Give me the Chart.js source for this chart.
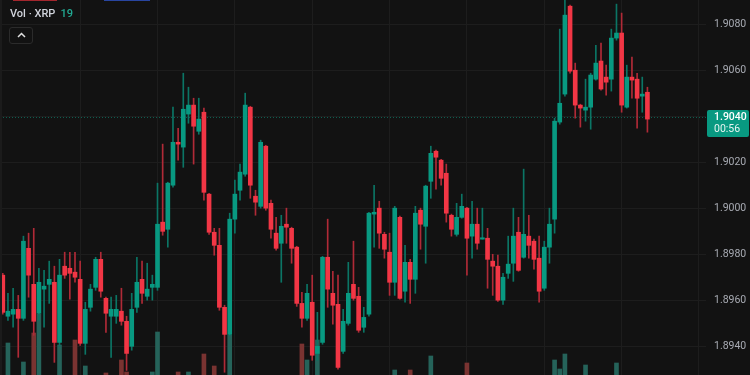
<!DOCTYPE html>
<html><head><meta charset="utf-8">
<script src="https://cdn.jsdelivr.net/npm/chart.js@4.4.1/dist/chart.umd.min.js"></script>
<style>
html,body{margin:0;padding:0;background:#121212;}
#wrap{position:relative;width:750px;height:375px;overflow:hidden;background:#121212;}
#c{position:absolute;left:0;top:0;}
.hdr{position:absolute;left:10px;top:7px;font:500 11px Roboto,sans-serif;color:#d1d4dc;white-space:nowrap;}
.hdr .v{color:#22ab94;margin-left:5px;}
.btn{position:absolute;left:9px;top:27px;width:24px;height:17px;border:1px solid #2b2b2b;border-radius:3px;box-sizing:border-box;background:#121212;}
.btn svg{position:absolute;left:7px;top:4px;}
.tb1{position:absolute;left:13px;top:0;width:44px;height:1px;background:#a3262d;}
.tb2{position:absolute;left:104px;top:0;width:46px;height:1px;background:#2845a0;}
.edge{position:absolute;left:0;top:0;width:2px;height:375px;background:#1b1b1b;}
</style></head>
<body>
<div id="wrap">
<canvas id="c" width="750" height="375"></canvas>
<div class="edge"></div>
<div class="tb1"></div><div class="tb2"></div>
<div class="hdr">Vol · XRP<span class="v">19</span></div>
<div class="btn"><svg width="9" height="6" viewBox="0 0 9 6"><polyline points="1,5 4.5,1.5 8,5" fill="none" stroke="#e0e0e0" stroke-width="1.5"/></svg></div>
</div>
<script>
const opens = [
1.89709,1.89530,1.89539,1.89560,1.89521,1.89826,1.89669,1.89543,1.89648,1.89669,
1.89678,1.89416,1.89748,1.89739,1.89722,1.89691,1.89412,1.89569,1.89656,1.89778,
1.89608,1.89530,1.89530,1.89552,1.89508,1.89399,1.89569,1.89691,1.89617,1.89656,
1.89656,1.89940,1.89909,1.90101,1.90288,1.90267,1.90411,1.90450,1.90336,1.90419,
1.90062,1.89896,1.89839,1.89569,1.89451,1.89953,1.90079,1.90149,1.90441,1.90053,
1.90009,1.90271,1.90022,1.89892,1.89848,1.89931,1.89913,1.89831,1.89586,1.89521,
1.89591,1.89368,1.89416,1.89787,1.89630,1.89582,1.89377,1.89499,1.89669,1.89617,
1.89482,1.89539,1.89975,1.90001,1.89887,1.89809,1.89678,1.89961,1.89639,1.89765,
1.89691,1.89992,1.89922,1.90118,1.90249,1.90210,1.90153,1.89970,1.89887,1.89961,
1.90001,1.89879,1.89931,1.89866,1.89870,1.89770,1.89748,1.89600,1.89717,1.89761,
1.89896,1.89787,1.89879,1.89857,1.89783,1.89652,1.89831,1.89953,1.90376,1.90498,
1.90881,1.90602,1.90450,1.90428,1.90441,1.90563,1.90642,1.90572,1.90563,1.90742,
1.90764,1.90441,1.90572,1.90563,1.90489,1.90506];
const highs = [
1.89717,1.89630,1.89652,1.89621,1.89879,1.89892,1.89913,1.89739,1.89730,1.89770,
1.89748,1.89778,1.89809,1.89809,1.89809,1.89770,1.89591,1.89669,1.89787,1.89809,
1.89613,1.89613,1.89621,1.89652,1.89530,1.89630,1.89787,1.89770,1.89761,1.89709,
1.90110,1.90280,1.90114,1.90441,1.90349,1.90589,1.90528,1.90480,1.90480,1.90437,
1.90066,1.89913,1.89913,1.89578,1.89979,1.90123,1.90193,1.90502,1.90445,1.90079,
1.90297,1.90275,1.90036,1.89961,1.89970,1.90001,1.89918,1.89835,1.89634,1.89669,
1.89709,1.89547,1.89791,1.89953,1.89726,1.89709,1.89560,1.89765,1.89857,1.89656,
1.89569,1.89983,1.90101,1.90031,1.89896,1.89892,1.90009,1.89966,1.89839,1.89778,
1.90009,1.90001,1.90101,1.90271,1.90254,1.90214,1.90193,1.89975,1.90022,1.90062,
1.90005,1.90031,1.90001,1.90001,1.89913,1.89800,1.89796,1.89717,1.89879,1.90001,
1.89961,1.90171,1.89970,1.89866,1.89879,1.89857,1.90001,1.90393,1.90781,1.90930,
1.90886,1.90633,1.90454,1.90563,1.90589,1.90711,1.90720,1.90624,1.90781,1.90890,
1.90851,1.90624,1.90659,1.90589,1.90572,1.90528];
const lows = [
1.89539,1.89512,1.89482,1.89351,1.89512,1.89613,1.89447,1.89512,1.89482,1.89586,
1.89329,1.89399,1.89695,1.89604,1.89678,1.89403,1.89364,1.89552,1.89643,1.89613,
1.89460,1.89351,1.89499,1.89491,1.89294,1.89382,1.89547,1.89586,1.89600,1.89600,
1.89643,1.89883,1.89831,1.90092,1.90210,1.90179,1.90371,1.90193,1.90323,1.90036,
1.89887,1.89796,1.89556,1.89286,1.89443,1.89892,1.90036,1.90140,1.90044,1.89970,
1.90001,1.89992,1.89870,1.89818,1.89678,1.89848,1.89761,1.89573,1.89482,1.89512,
1.89338,1.89338,1.89408,1.89569,1.89495,1.89299,1.89368,1.89491,1.89600,1.89460,
1.89460,1.89530,1.89831,1.89826,1.89783,1.89621,1.89621,1.89604,1.89591,1.89586,
1.89630,1.89822,1.89761,1.90044,1.90084,1.90101,1.89940,1.89879,1.89879,1.89957,
1.89709,1.89783,1.89822,1.89866,1.89652,1.89621,1.89595,1.89582,1.89695,1.89682,
1.89726,1.89783,1.89783,1.89735,1.89591,1.89643,1.89761,1.89892,1.90367,1.90489,
1.90589,1.90393,1.90354,1.90380,1.90345,1.90559,1.90515,1.90493,1.90511,1.90733,
1.90419,1.90437,1.90480,1.90349,1.90419,1.90332];
const closes = [
1.89547,1.89552,1.89560,1.89521,1.89857,1.89709,1.89508,1.89678,1.89661,1.89691,
1.89416,1.89709,1.89709,1.89717,1.89700,1.89412,1.89560,1.89648,1.89778,1.89639,
1.89543,1.89560,1.89560,1.89508,1.89368,1.89560,1.89678,1.89630,1.89648,1.89669,
1.89931,1.89900,1.90110,1.90288,1.90280,1.90432,1.90450,1.90358,1.90389,1.90070,
1.89896,1.89839,1.89569,1.89451,1.89953,1.90062,1.90158,1.90450,1.90101,1.90027,
1.90288,1.90001,1.89909,1.89826,1.89922,1.89918,1.89826,1.89586,1.89521,1.89630,
1.89360,1.89399,1.89787,1.89648,1.89578,1.89307,1.89508,1.89630,1.89608,1.89469,
1.89525,1.89979,1.89983,1.89892,1.89822,1.89678,1.90001,1.89608,1.89765,1.89691,
1.89979,1.89931,1.90097,1.90240,1.90223,1.90131,1.89979,1.89909,1.89961,1.90009,
1.89870,1.89931,1.89848,1.89872,1.89778,1.89748,1.89600,1.89700,1.89757,1.89879,
1.89730,1.89887,1.89839,1.89778,1.89639,1.89831,1.89931,1.90380,1.90458,1.90842,
1.90598,1.90450,1.90437,1.90441,1.90581,1.90633,1.90520,1.90550,1.90742,1.90764,
1.90450,1.90572,1.90559,1.90480,1.90498,1.90389];
const volumes = [
30,77,28,35,58,40,87,106,25,22,
38,75,26,24,80,42,54,20,33,36,
47,41,27,60,48,39,32,29,23,48,
88,37,34,43,48,44,48,31,21,66,
40,54,38,42,85,35,22,41,39,18,
36,40,27,24,30,19,25,43,76,60,
44,80,42,37,26,41,33,29,31,28,
21,43,32,30,22,35,50,40,27,50,
38,24,36,64,23,20,34,19,22,25,
57,30,26,17,33,21,32,24,20,31,
35,29,22,19,36,33,30,60,51,66,
44,39,25,55,42,34,38,23,41,57,
43,31,22,35,20,28];
const priceTicks = [1.8940,1.8960,1.8980,1.9000,1.9020,1.9040,1.9060,1.9080];
const timeGridIdx = [15,30,45,60,75,90,105,120,135];
const lastPrice = 1.9040;
const countdown = "00:56";

const GREEN = '#089981', RED = '#f23645';
const WICK_G = '#0b7565', WICK_R = '#b02a37';
const VOL_G = '#25635a', VOL_R = '#7a3331';
const idx = opens.map((_, i) => i);
const isUp = i => closes[i] >= opens[i];

const noPad = s => { s.paddingTop = 0; s.paddingBottom = 0; s.paddingLeft = 0; s.paddingRight = 0; };

const overlay = {
  id: 'overlay',
  beforeDatasetsDraw(chart) {
    const {ctx, chartArea, scales} = chart;
    const y = Math.round(scales.y.getPixelForValue(lastPrice)) + 0.5;
    ctx.save();
    ctx.strokeStyle = '#0e5e50';
    ctx.lineWidth = 1;
    ctx.setLineDash([1, 2]);
    ctx.beginPath();
    ctx.moveTo(chartArea.left, y);
    ctx.lineTo(chartArea.right, y);
    ctx.stroke();
    ctx.restore();
  },
  afterDraw(chart) {
    const {ctx, chartArea, scales} = chart;
    const y = scales.y.getPixelForValue(lastPrice);
    const x0 = chartArea.right + 1, w = 42, top = Math.round(y) - 7, h = 27;
    ctx.save();
    ctx.fillStyle = GREEN;
    ctx.beginPath();
    ctx.roundRect(x0, top, w, h, 2);
    ctx.fill();
    ctx.fillStyle = '#ffffff';
    ctx.textBaseline = 'middle';
    ctx.textAlign = 'left';
    ctx.font = '500 10.5px Roboto, sans-serif';
    ctx.fillText(lastPrice.toFixed(4), x0 + 7, top + 7.5);
    ctx.font = '10.5px Roboto, sans-serif';
    ctx.fillStyle = '#e6f5f2';
    ctx.fillText(countdown, x0 + 7, top + 19.5);
    ctx.restore();
  }
};

new Chart(document.getElementById('c'), {
  type: 'bar',
  data: {
    datasets: [
      { label: 'Volume', yAxisID: 'yv', order: 3, grouped: false, barThickness: 4,
        data: idx.map(i => ({x: i, y: volumes[i]})),
        backgroundColor: idx.map(i => isUp(i) ? VOL_G : VOL_R) },
      { label: 'Wicks', yAxisID: 'y', order: 2, grouped: false, barThickness: 1,
        data: idx.map(i => ({x: i, y: [lows[i], highs[i]]})),
        backgroundColor: idx.map(i => isUp(i) ? WICK_G : WICK_R) },
      { label: 'Bodies', yAxisID: 'y', order: 1, grouped: false, barThickness: 4, minBarLength: 1,
        data: idx.map(i => ({x: i, y: [opens[i], closes[i]]})),
        backgroundColor: idx.map(i => isUp(i) ? GREEN : RED) }
    ]
  },
  options: {
    responsive: false, animation: false, devicePixelRatio: 1,
    layout: {padding: 0, autoPadding: false},
    plugins: {legend: {display: false}, tooltip: {enabled: false}},
    scales: {
      x: { type: 'linear', min: -0.543, max: 136.36, offset: false,
        grid: {color: '#1d1d1d', drawTicks: false, offset: false},
        border: {display: false}, ticks: {display: false, padding: 0},
        afterBuildTicks: s => { s.ticks = timeGridIdx.map(v => ({value: v})); },
        afterFit: s => { s.height = 0; noPad(s); } },
      y: { position: 'right', min: 1.89274, max: 1.90908,
        grid: {color: '#1d1d1d', drawTicks: false},
        border: {display: false},
        ticks: {color: '#a8abb3', padding: 8, font: {family: 'Roboto', size: 10.5},
          callback: v => Number(v).toFixed(4)},
        afterBuildTicks: s => { s.ticks = priceTicks.map(v => ({value: v})); },
        afterFit: s => { s.width = 44; noPad(s); } },
      yv: { display: false, min: 45, max: 420 }
    }
  },
  plugins: [overlay]
});
</script>
</body></html>
